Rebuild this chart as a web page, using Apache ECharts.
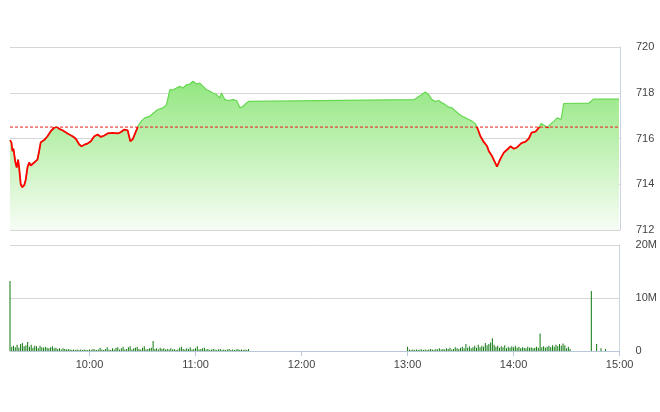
<!DOCTYPE html>
<html>
<head>
<meta charset="utf-8">
<script src="https://cdn.jsdelivr.net/npm/echarts@6/dist/echarts.min.js"></script>
<style>
html,body{margin:0;padding:0;background:#fff;}
#chart{width:660px;height:412px;}
</style>
</head>
<body>
<div id="chart"></div>
<script>
// ---- data ----
const referencePrice = 716.5;

const priceTimes = [
 '9:15:00','9:15:48','9:16:22','9:16:56','9:18:04','9:18:48','9:19:35','9:20:10','9:21:04','9:21:52',
 '9:23:00','9:23:54','9:24:52','9:25:50','9:26:44','9:28:40','9:30:32','9:31:29','9:32:24','9:34:20',
 '9:36:12','9:38:04','9:40:00','9:41:28','9:42:50','9:44:42','9:47:32','9:50:22','9:52:14','9:54:10',
 '9:55:28','9:57:20','9:58:52','10:00:44','10:02:40','10:04:32','10:06:25','10:08:20','10:10:13','10:13:02',
 '10:15:52','10:17:44','10:19:40','10:21:32','10:23:04','10:24:23','10:25:20','10:26:49','10:27:23','10:29:18',
 '10:31:11','10:34:01','10:36:51','10:38:43','10:41:33','10:43:29','10:44:23','10:45:21','10:47:13','10:49:09',
 '10:51:01','10:52:53','10:54:49','10:56:41','10:58:33','11:00:29','11:02:21','11:04:13','11:06:09','11:08:01',
 '11:09:53','11:11:49','11:13:41','11:14:39','11:15:34','11:16:31','11:18:23','11:21:14','11:23:09','11:25:01',
 '11:26:53','11:28:49','11:30:00',
 '13:03:17','13:04:47','13:06:07','13:08:00','13:09:52','13:11:44','13:13:40','13:15:32','13:17:24','13:19:20',
 '13:21:12','13:23:05','13:25:00','13:26:53','13:28:45','13:30:41','13:32:33','13:34:26','13:36:21','13:38:13',
 '13:39:11','13:41:03','13:42:56','13:44:52','13:45:46','13:47:42','13:50:26','13:52:25','13:54:17','13:56:13',
 '13:58:05','13:59:57','14:01:52','14:04:14','14:06:35','14:08:27','14:10:00','14:12:13','14:14:05','14:15:20',
 '14:17:19','14:19:01','14:21:00','14:22:36','14:24:32','14:26:42','14:28:08','14:42:30','14:45:00','14:59:26'
];
const priceValues = [
 715.93,715.83,715.45,715.56,714.95,714.73,715.08,714.73,714.00,713.87,
 713.95,714.20,714.73,714.95,714.82,714.95,715.08,715.45,715.84,715.93,
 716.10,716.32,716.47,716.51,716.42,716.36,716.22,716.10,715.99,715.74,
 715.66,715.74,715.78,715.88,716.10,716.17,716.07,716.13,716.22,716.25,
 716.22,716.28,716.39,716.36,715.88,715.96,716.03,716.42,716.54,716.76,
 716.90,716.97,717.16,717.27,717.34,717.48,717.77,718.13,718.13,718.21,
 718.28,718.21,718.35,718.38,718.50,718.38,718.42,718.28,718.13,718.06,
 717.99,717.92,717.77,717.99,717.84,717.70,717.66,717.70,717.66,717.34,
 717.41,717.56,717.62,
 717.70,717.75,717.84,717.92,718.03,717.92,717.70,717.62,717.66,717.56,
 717.48,717.37,717.34,717.20,717.08,716.97,716.90,716.83,716.76,716.64,
 716.49,716.10,715.85,715.66,715.45,715.22,714.77,715.12,715.38,715.52,
 715.66,715.55,715.62,715.80,715.86,716.00,716.26,716.30,716.47,716.65,
 716.57,716.48,716.65,716.76,716.90,716.83,717.53,717.55,717.72,717.72
];

// volume (millions), one bar per minute
const volMorningStart = '9:15';
const volMorning = [
 13.2,
 0.8,1.0,0.7,1.2,0.6,1.3,1.5,0.9,1.1,1.7,
 0.8,1.2,0.6,1.0,0.9,0.5,1.0,0.7,0.6,0.8,
 0.6,0.5,0.7,0.9,0.5,0.6,0.4,0.5,0.3,0.5,
 0.4,0.3,0.4,0.3,0.2,0.3,0.2,0.3,0.2,0.3,
 0.2,0.3,0.2,0.2,0.3,0.2,0.4,0.3,0.2,0.3,
 0.6,0.3,0.2,0.4,0.7,0.3,0.2,0.5,0.3,0.6,
 0.7,0.3,0.5,0.8,0.3,0.4,0.7,0.9,0.3,0.5,
 0.6,0.8,0.4,0.3,0.6,0.9,0.3,0.4,0.5,0.6,
 1.9,0.4,0.5,0.3,0.6,0.4,0.5,0.3,0.4,0.3,
 0.5,0.3,0.4,0.2,0.3,0.6,0.8,0.4,0.3,0.5,
 0.4,0.7,0.3,0.4,0.5,0.9,0.3,0.4,0.5,0.6,
 0.3,0.4,0.2,0.3,0.4,0.3,0.2,0.3,0.4,0.2,
 0.3,0.2,0.3,0.4,0.2,0.3,0.2,0.3,0.4,0.2,
 0.3,0.2,0.3,0.2,0.4
];
const volAfternoonStart = '13:00';
const volAfternoon = [
 0.8,0.3,0.2,0.3,0.2,0.3,0.2,0.3,0.3,0.2,
 0.3,0.2,0.3,0.4,0.3,0.2,0.4,0.3,0.5,0.3,
 0.4,0.3,0.5,0.4,0.6,0.3,0.4,0.7,0.5,0.4,
 0.6,0.8,0.5,1.3,0.6,0.9,0.5,0.7,1.0,0.6,
 1.2,0.7,1.0,0.8,1.5,1.1,1.3,1.6,2.4,1.2,
 0.8,1.0,0.6,0.9,0.7,1.1,0.5,0.8,0.6,0.9,
 0.7,1.0,0.6,0.8,0.5,0.7,0.6,0.5,0.8,0.6,
 0.7,0.5,0.6,0.8,0.6,3.3,0.7,0.9,0.6,0.8,
 1.0,0.7,1.1,0.8,1.2,0.9,1.3,1.0,1.4,1.1,
 0.5,0.8,0.4
];
const volLateTimes = ['14:44','14:47','14:49:30','14:52'];
const volLate = [11.3,1.3,0.5,0.4];

const xTickLabels = ['10:00','11:00','12:00','13:00','14:00','15:00'];
const xMin = '9:15', xMax = '15:00';
const priceTicks = [712,714,716,718,720];
const volTicks = [0,10,20];

// ---- helpers ----
function toMin(s){ const p = s.split(':').map(Number); return p[0]*60 + p[1] + (p[2]||0)/60; }
function fmtMin(v){ const h = Math.floor(v/60), m = Math.round(v - h*60); return h + ':' + (m<10?'0':'') + m; }

const priceData = priceTimes.map((t,i)=>[toMin(t), priceValues[i]]);
const refData = [[toMin(xMin), referencePrice], [toMin(xMax), referencePrice]];
const volData = [];
volMorning.forEach((v,i)=>volData.push([toMin(volMorningStart)+i, v]));
volAfternoon.forEach((v,i)=>volData.push([toMin(volAfternoonStart)+i, v]));
volLateTimes.forEach((t,i)=>volData.push([toMin(t), volLate[i]]));

const tickMins = xTickLabels.map(toMin);
const FONT = '"Liberation Sans",Arial,sans-serif';
const labelStyle = {color:'#444', fontSize:11, fontFamily:FONT};

const chart = echarts.init(document.getElementById('chart'), null, {renderer:'canvas'});
chart.setOption({
  animation:false,
  backgroundColor:'#fff',
  grid:[
    {left:10, right:40, top:47, height:183},
    {left:10, right:40, top:245, height:106}
  ],
  xAxis:[
    {type:'value', gridIndex:0, min:toMin(xMin), max:toMin(xMax),
     axisLine:{show:false}, axisTick:{show:false}, axisLabel:{show:false}, splitLine:{show:false}},
    {type:'value', gridIndex:1, min:toMin(xMin), max:toMin(xMax),
     axisLine:{show:true, lineStyle:{color:'#b9c8d8'}},
     axisTick:{show:true, customValues:tickMins, length:5, lineStyle:{color:'#b9c8d8'}},
     axisLabel:Object.assign({customValues:tickMins, formatter:v=>fmtMin(v), margin:8}, labelStyle),
     splitLine:{show:false}}
  ],
  yAxis:[
    {type:'value', gridIndex:0, position:'right', min:priceTicks[0], max:priceTicks[priceTicks.length-1], interval:priceTicks[1]-priceTicks[0],
     axisLine:{show:true, lineStyle:{color:'#cbd5df'}}, axisTick:{show:false},
     axisLabel:Object.assign({margin:16}, labelStyle),
     splitLine:{show:true, lineStyle:{color:'#d6d6d6', width:1}}},
    {type:'value', gridIndex:1, position:'right', min:volTicks[0], max:volTicks[volTicks.length-1], interval:volTicks[1]-volTicks[0],
     axisLine:{show:true, lineStyle:{color:'#cbd5df'}}, axisTick:{show:false},
     axisLabel:Object.assign({margin:16, formatter:v=> v===0 ? '0' : v+'M'}, labelStyle),
     splitLine:{show:true, lineStyle:{color:'#d6d6d6', width:1}}}
  ],
  visualMap:[{
    type:'piecewise', show:false, seriesIndex:2, dimension:1,
    pieces:[{gte:700, lt:referencePrice, color:'#ff0000'},{gte:referencePrice, lte:730, color:'rgba(255,255,255,0)'}]
  }],
  series:[
    {type:'line', xAxisIndex:0, yAxisIndex:0, data:priceData, showSymbol:false, symbol:'none',
     color:'#66d850',
     lineStyle:{color:'#66d850', width:1.2},
     areaStyle:{origin:'start', color:new echarts.graphic.LinearGradient(0,0,0,1,[
        {offset:0, color:'#93e781'},
        {offset:0.45, color:'#c1f1b5'},
        {offset:1, color:'#f7fdf5'}
     ]), opacity:1},
     z:2},
    {type:'line', xAxisIndex:0, yAxisIndex:0, data:refData, showSymbol:false, symbol:'none', silent:true,
     color:'#e81c1c', lineStyle:{color:'#e81c1c', type:[3,2], width:1}, z:3},
    {type:'line', xAxisIndex:0, yAxisIndex:0, data:priceData, showSymbol:false, symbol:'none',
     lineStyle:{width:1.8}, z:4},
    {type:'bar', xAxisIndex:1, yAxisIndex:1, data:volData, barWidth:1,
     itemStyle:{color:'#0f780f'}}
  ]
});
</script>
</body>
</html>
